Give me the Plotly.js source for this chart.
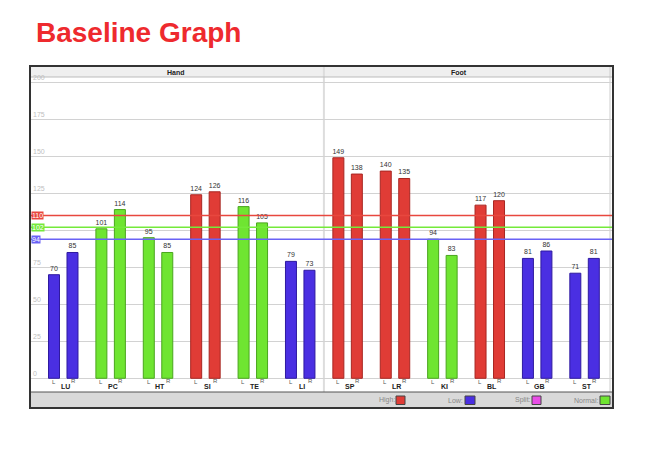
<!DOCTYPE html>
<html>
<head>
<meta charset="utf-8">
<script src="https://cdn.plot.ly/plotly-3.0.1.min.js"></script>
<style>html,body{margin:0;padding:0;background:#fff;}#chart{width:653px;height:471px;}</style>
</head>
<body>
<div id="chart"></div>
<script>
// ---- data ----
const groups = ['LU','PC','HT','SI','TE','LI','SP','LR','KI','BL','GB','ST'];
const leftValues = [70,101,95,124,116,79,149,140,94,117,81,71];
const rightValues = [85,114,85,126,105,73,138,135,83,120,86,81];
const groupStatus = ['Low','Normal','Normal','High','Normal','Low','High','High','Normal','High','Low','Low'];
const sections = ['Hand','Foot'];
const refNames = ['High','Normal','Low'];
const refValues = [110,102,94];
const legendNames = ['High','Low','Split','Normal'];
const yTicks = [0,25,50,75,100,125,150,175,200];
const yTickText = ['0','25','50','75','','125','150','175','200']; // 100 is hidden behind the 102 marker

// ---- styles ----
const fill = {High:'#e03c36', Low:'#4a2fe2', Normal:'#6fe531', Split:'#e84de6'};
const edge = {High:'#a82622', Low:'#2f1aa0', Normal:'#4aa51e', Split:'#b030b0'};
const FONT = 'Liberation Sans, Arial, sans-serif';

const W = 583, H = 342; // plot area px
const px2x = p => (p - 30) / W;
const px2y = p => (408 - p) / H;

function barTrace(vals, offset) {
  return {
    type: 'bar', x: groups, y: vals,
    width: 0.232, offset: offset,
    marker: { color: groupStatus.map(s => fill[s]), line: { color: groupStatus.map(s => edge[s]), width: 1 } },
    text: vals.map(String), textposition: 'outside',
    textfont: { size: 7, color: '#333', family: FONT },
    constraintext: 'none', cliponaxis: false, hoverinfo: 'x+y', showlegend: false
  };
}
const traces = [barTrace(leftValues, -0.311), barTrace(rightValues, 0.079)];

const shapes = [];
const annotations = [];
// header band
shapes.push({type:'rect', xref:'paper', yref:'paper', x0:0, x1:1, y0:px2y(77), y1:1, fillcolor:'#efefef', line:{width:0}, layer:'below'});
shapes.push({type:'line', xref:'paper', yref:'paper', x0:0, x1:1, y0:px2y(77), y1:px2y(77), line:{color:'#bbb', width:1}});
// legend band
shapes.push({type:'rect', xref:'paper', yref:'paper', x0:0, x1:1, y0:0, y1:px2y(392), fillcolor:'#d9d9d9', line:{width:0}, layer:'below'});
shapes.push({type:'line', xref:'paper', yref:'paper', x0:0, x1:1, y0:px2y(392), y1:px2y(392), line:{color:'#555', width:1}});
// divider between sections
shapes.push({type:'line', xref:'x', yref:'paper', x0:5.5, x1:5.5, y0:px2y(392), y1:1, line:{color:'#ddd', width:2}, layer:'below'});
// right inner edge
shapes.push({type:'line', xref:'paper', yref:'paper', x0:px2x(610), x1:px2x(610), y0:px2y(392), y1:1, line:{color:'#ccc', width:1}, layer:'below'});
// reference lines
const refColors = {High:'#e8473f', Normal:'#74ea3a', Low:'#6a62f6'};
refValues.forEach((v, i) => {
  const n = refNames[i];
  shapes.push({type:'line', xref:'paper', yref:'y', x0:0, x1:1, y0:v, y1:v, layer:'above', line:{color:refColors[n], width:1.5}});
  annotations.push({xref:'paper', yref:'y', x:0.002, y:v, xanchor:'left', yanchor:'middle', text:String(v), showarrow:false,
    bgcolor:refColors[n], borderpad:0, font:{size:7, color:'#fff', family:FONT}});
});
// frame
shapes.push({type:'rect', xref:'paper', yref:'paper', x0:0, x1:1, y0:0, y1:1, line:{color:'#333', width:2}});

// section labels
annotations.push({xref:'x', yref:'paper', x:2.37, y:px2y(72), text:'<b>'+sections[0]+'</b>', showarrow:false, yanchor:'middle',
  font:{size:7, color:'#222', family:FONT}});
annotations.push({xref:'x', yref:'paper', x:8.35, y:px2y(72), text:'<b>'+sections[1]+'</b>', showarrow:false, yanchor:'middle',
  font:{size:7, color:'#222', family:FONT}});

// L/R and group labels
groups.forEach(g => {
  annotations.push({xref:'x', yref:'y', x:g, y:0, xshift:-9.5, yanchor:'top', yshift:1, text:'L', showarrow:false,
    font:{size:6, color:'#555', family:FONT}});
  annotations.push({xref:'x', yref:'y', x:g, y:0, xshift:10, yanchor:'top', yshift:2, text:'R', showarrow:false,
    font:{size:6, color:'#555', family:FONT}});
  annotations.push({xref:'x', yref:'y', x:g, y:0, xshift:2, yanchor:'top', yshift:-3, text:'<b>'+g+'</b>', showarrow:false,
    font:{size:7, color:'#222', family:FONT}});
});

// bottom legend
const swatchPx = {High:[396,405], Low:[465,475], Split:[532,541], Normal:[600,610]};
legendNames.forEach(n => {
  const [a, b] = swatchPx[n];
  shapes.push({type:'rect', xref:'paper', yref:'paper', x0:px2x(a), x1:px2x(b), y0:px2y(404.5), y1:px2y(396), fillcolor:fill[n], line:{color:'#444', width:1}});
  annotations.push({xref:'paper', yref:'paper', x:px2x(a-0.5), y:px2y(400), xanchor:'right', yanchor:'middle', text:n+':', showarrow:false,
    borderpad:0, font:{size:7, color:'#888', family:FONT}});
});

const layout = {
  width: 653, height: 471,
  paper_bgcolor: '#fff', plot_bgcolor: '#fff',
  margin: {l:30, r:40, t:66, b:63, pad:0},
  title: {text:'<b>Baseline Graph</b>', x:36/653, xanchor:'left', xref:'container', yref:'container', y:(471-32.5)/471, yanchor:'middle',
    font:{size:28, color:'#ee2a2e', family:FONT}},
  barmode: 'overlay',
  xaxis: {type:'category', range:[-0.7015, 11.6], showgrid:false, showticklabels:false, ticks:'', zeroline:false, showline:false, fixedrange:true},
  yaxis: {range:[-20.07, 211.0], tickvals:yTicks, ticktext:yTickText, ticklabelposition:'inside top',
    tickfont:{size:7, color:'#c0c0c0', family:FONT}, gridcolor:'#d2d2d2', gridwidth:1, zeroline:false,
    showline:false, ticks:'', fixedrange:true},
  shapes: shapes, annotations: annotations,
  showlegend: false
};
Plotly.newPlot('chart', traces, layout, {displayModeBar:false, staticPlot:true});
</script>
</body>
</html>
